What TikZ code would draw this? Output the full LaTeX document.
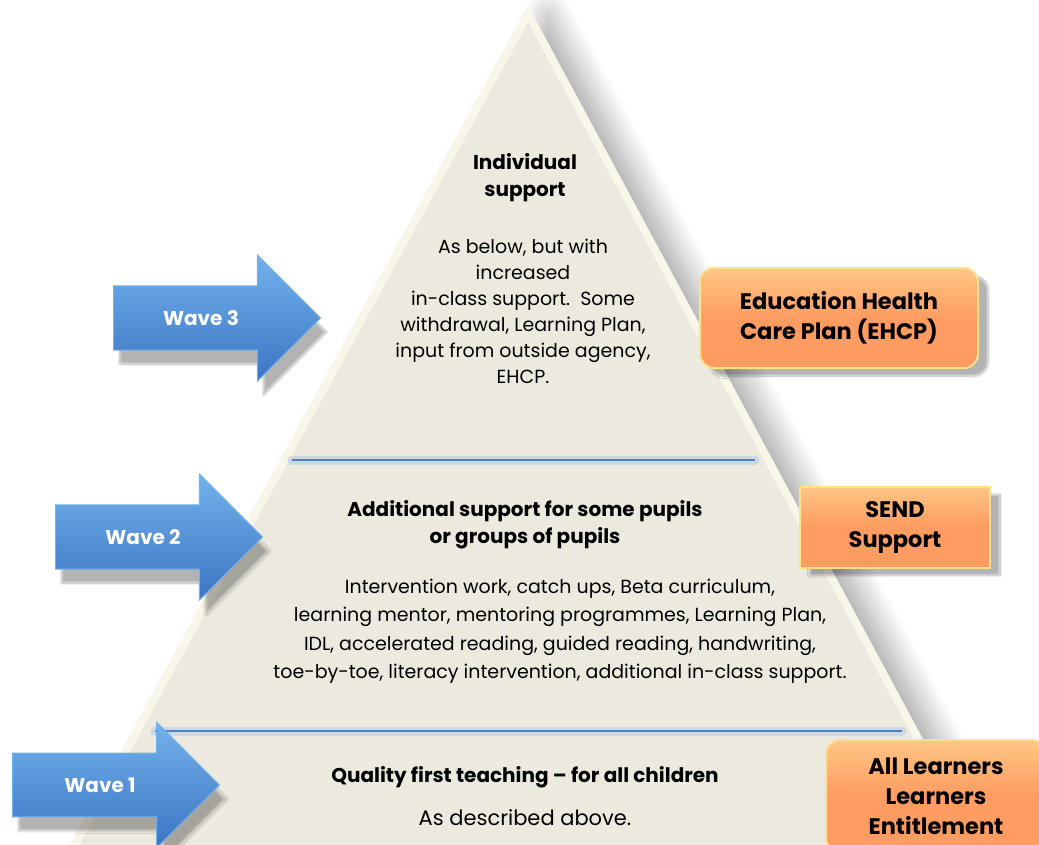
\documentclass[tikz,border=0pt]{standalone}
\usepackage{fontspec}
\setmainfont{Poppins}
\usetikzlibrary{shapes.arrows,shadows.blur}
\definecolor{cream}{HTML}{ECEADF}
\definecolor{rim}{HTML}{F8F6E8}
\definecolor{waveblue}{HTML}{4A88D4}
\definecolor{wavetop}{HTML}{72B2EC}
\definecolor{wavebot}{HTML}{3C74C2}
\definecolor{linemid}{HTML}{4F80C0}
\definecolor{boxorange}{HTML}{FF9C62}
\definecolor{boxtop}{HTML}{FFC684}
\definecolor{boxrim}{HTML}{FFE08C}
\tikzset{
  wavearrow/.style={single arrow, single arrow head extend=31pt,
    minimum height=207pt, inner xsep=0pt, inner ysep=24pt,
    top color=wavetop, bottom color=wavebot, draw=wavetop, line width=1pt,
    text=white, font=\bfseries\fontsize{20}{22}\selectfont,
    blur shadow={shadow xshift=6pt, shadow yshift=-14pt, shadow opacity=30, shadow blur steps=15}},
  levelbox/.style={top color=boxtop, bottom color=boxorange, middle color=boxorange,
    draw=boxrim, line width=2pt, align=center,
    font=\bfseries\fontsize{22.5}{30}\selectfont,
    blur shadow={shadow xshift=10pt, shadow yshift=-8pt, shadow opacity=30, shadow blur steps=15}},
  headtext/.style={align=center, font=\bfseries\fontsize{20}{27}\selectfont},
  bodytext/.style={align=center, font=\fontsize{19}{26}\selectfont},
  sepline/.style={linemid, line width=2.5pt}
}
\begin{document}
\begin{tikzpicture}[x=1pt,y=-1pt]
\useasboundingbox (0,0) rectangle (1039,845);
\clip (0,0) rectangle (1039,845);
% pyramid
\path[fill=cream, draw=rim, line width=8pt,
  blur shadow={shadow xshift=20pt, shadow yshift=0pt, shadow blur radius=24pt, shadow blur steps=25, shadow opacity=35}]
  (528,14) -- (61,870) -- (989,870) -- cycle;
% separators
\coordinate (s2l) at (292,460);
\coordinate (s2r) at (755,460);
\coordinate (s1l) at (155,731);
\coordinate (s1r) at (902,731);
\draw[linemid!40, line width=9pt, line cap=round, opacity=.6] (s2l) -- (s2r);
\draw[sepline] (s2l) -- (s2r);
\draw[linemid!40, line width=9pt, line cap=round, opacity=.6] (s1l) -- (s1r);
\draw[sepline] (s1l) -- (s1r);
% top tier
\node[headtext] (top) at (525,178) {Individual\\support};
\node[bodytext] (topbody) at (523,311) {As below, but with\\increased\\in-class support.~~Some\\withdrawal, Learning Plan,\\input from outside agency,\\EHCP.};
% middle tier
\node[headtext] (mid) at (525,525) {Additional support for some pupils\\or groups of pupils};
\node[bodytext, font=\fontsize{19}{28.5}\selectfont] (midbody) at (560,631) {Intervention work, catch ups, Beta curriculum,\\learning mentor, mentoring programmes, Learning Plan,\\IDL, accelerated reading, guided reading, handwriting,\\toe-by-toe, literacy intervention, additional in-class support.};
% bottom tier
\node[headtext] (base) at (525,777) {Quality first teaching -- for all children};
\node[bodytext, font=\fontsize{21}{26}\selectfont] (basebody) at (525,818) {As described above.};
% waves
\node[wavearrow, anchor=tail] (w3) at (113,318) {Wave 3};
\node[wavearrow, anchor=tail] (w2) at (55,537) {Wave 2};
\node[wavearrow, anchor=tail] (w1) at (12,785) {Wave 1};
% levels
\node[levelbox, rounded corners=14pt, minimum width=278pt, minimum height=100pt] (ehcp) at (839,318) {Education Health\\Care Plan (EHCP)};
\node[levelbox, minimum width=190pt, minimum height=81pt] (send) at (895,527) {SEND\\Support};
\node[levelbox, rounded corners=14pt, minimum width=220pt, minimum height=112pt] (all) at (936,796) {All Learners\\Learners\\Entitlement};
\end{tikzpicture}
\end{document}
